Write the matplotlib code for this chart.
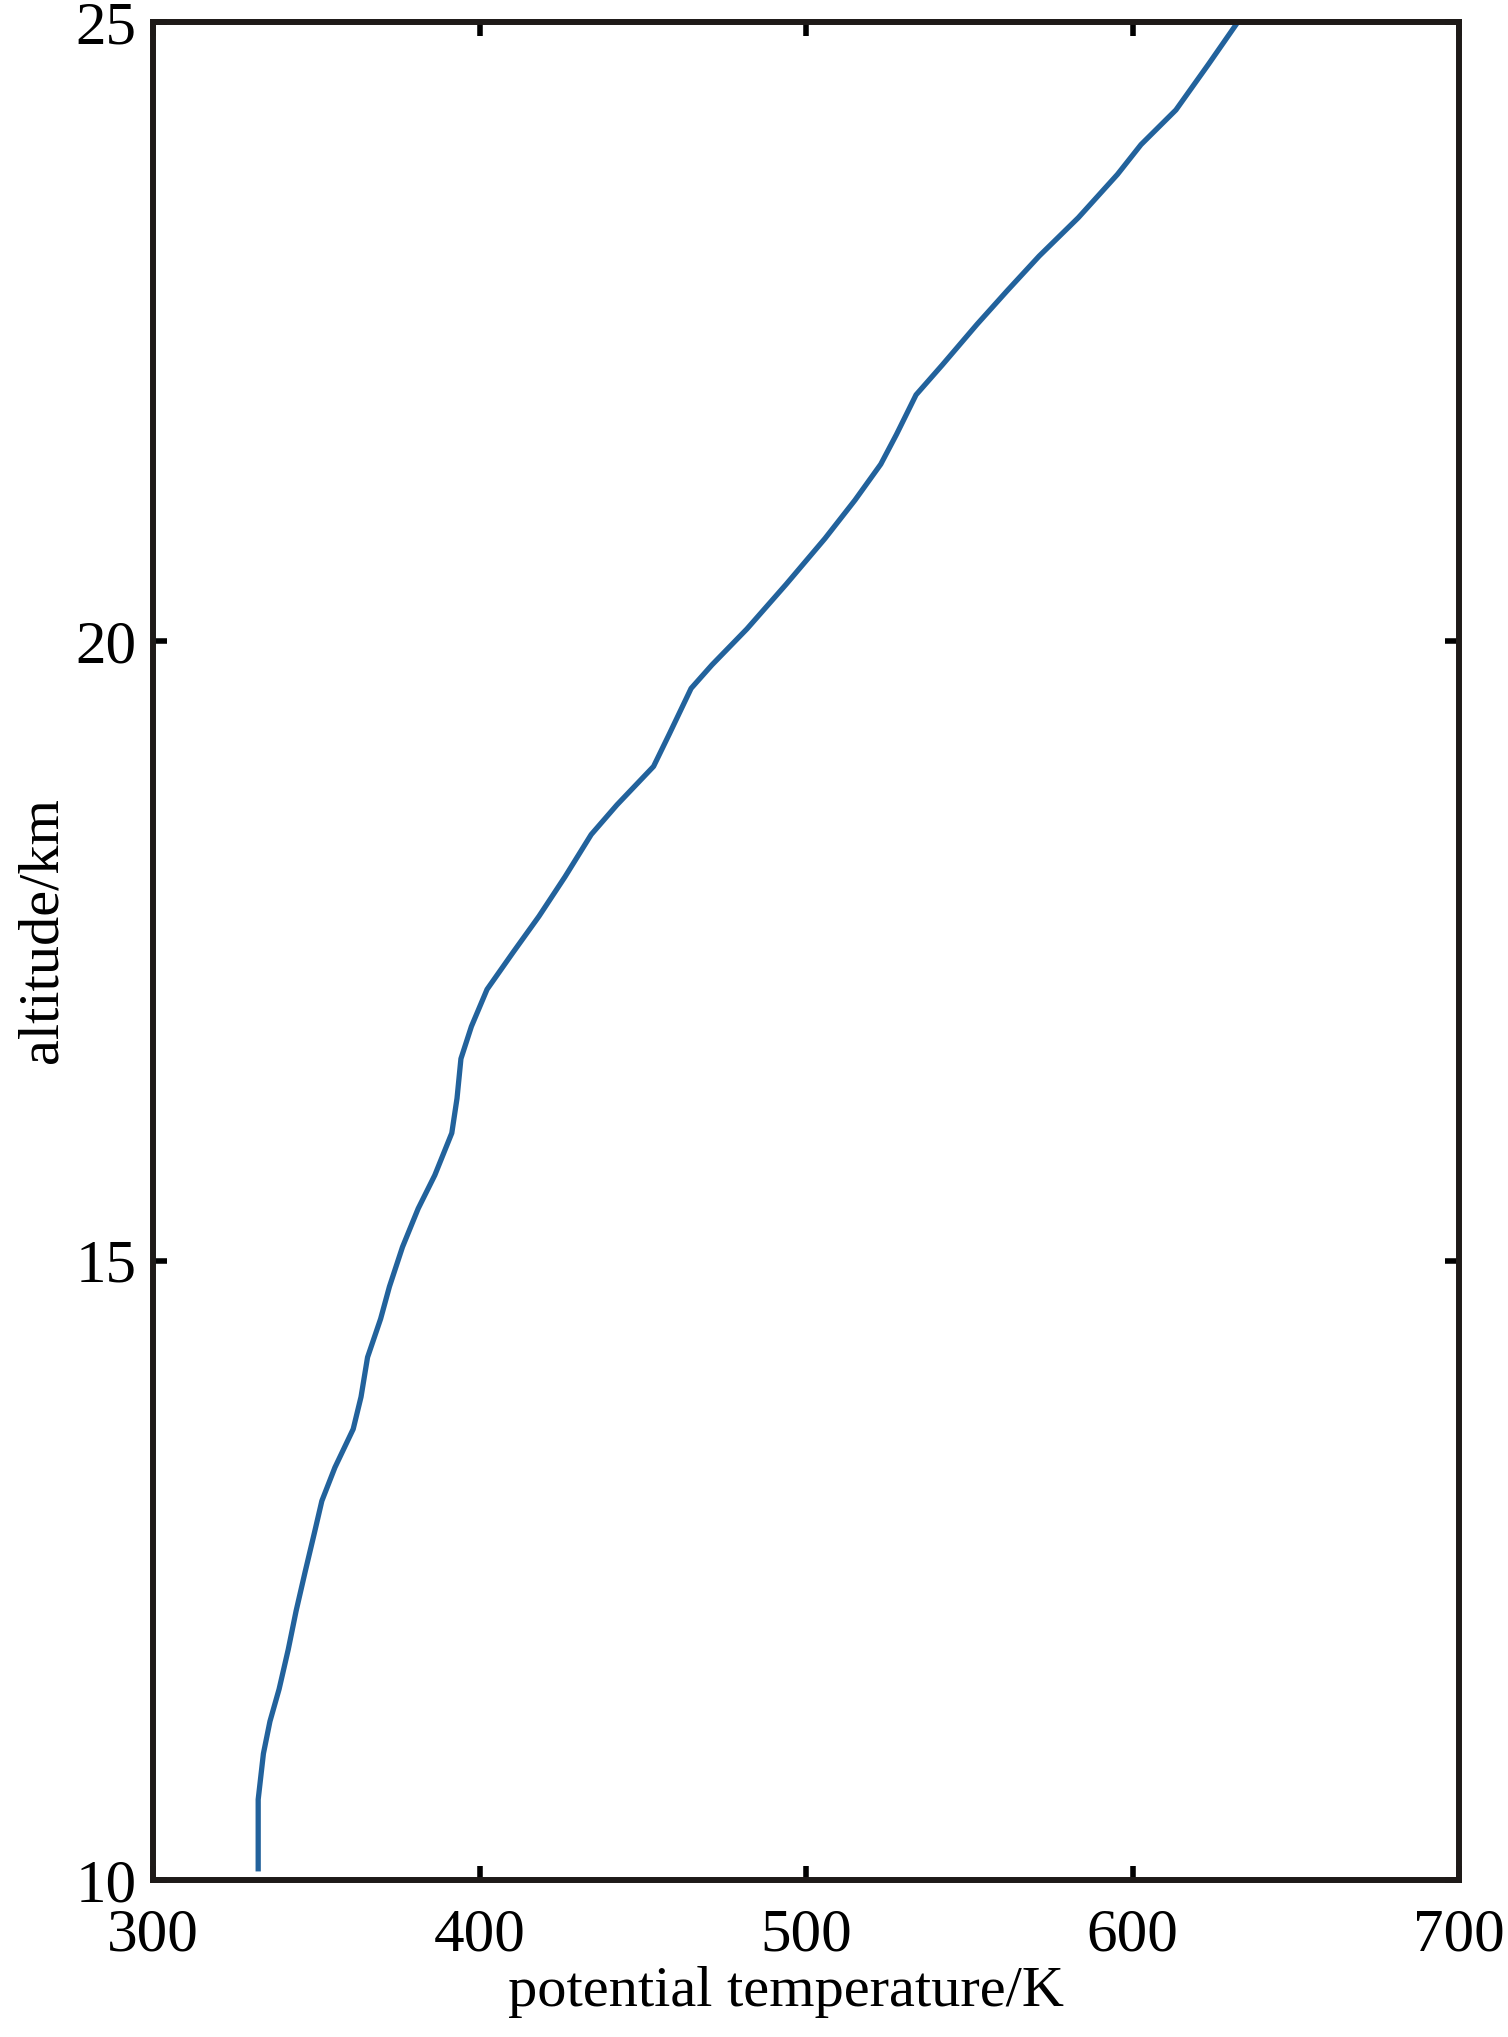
import matplotlib.pyplot as plt
import numpy as np

# potential temperature profile
theta = [332.2, 332.2, 333.8, 335.8, 338.6, 341.4, 343.8, 346.6, 349.4, 351.7,
         355.7, 361.3, 363.7, 365.7, 369.7, 372.4, 376.4, 381.2, 386.3, 391.5,
         393.1, 394.3, 397.5, 402.3, 410.3, 418.2, 426.2, 434.2, 442.1, 453.3,
         458.1, 464.8, 471.2, 481.9, 493.9, 505.8, 515.0, 522.9, 527.7, 533.7,
         541.7, 552.4, 561.6, 571.4, 583.4, 595.4, 602.6, 613.3, 623.3, 632.0]
altitude = [10.09, 10.65, 11.02, 11.28, 11.54, 11.86, 12.17, 12.49, 12.80, 13.06,
            13.33, 13.64, 13.90, 14.22, 14.53, 14.79, 15.11, 15.42, 15.69, 16.03,
            16.31, 16.63, 16.89, 17.19, 17.49, 17.78, 18.10, 18.44, 18.68, 18.99,
            19.25, 19.62, 19.81, 20.10, 20.46, 20.83, 21.14, 21.43, 21.67, 21.99,
            22.23, 22.56, 22.83, 23.11, 23.42, 23.77, 24.01, 24.29, 24.66, 24.99]

xticks = [300, 400, 500, 600, 700]
yticks = [10, 15, 20, 25]

plt.rcParams['font.family'] = ['Liberation Serif', 'DejaVu Serif']

fig = plt.figure(figsize=(15.08, 20.37), dpi=100)
ax = fig.add_axes([0.1015, 0.0771, 0.866, 0.9121])

ax.plot(theta, altitude, color='#22629c', lw=3.8, solid_joinstyle='round')

ax.set_xlim(300, 700)
ax.set_ylim(10, 25)
ax.set_xticks(xticks)
ax.set_yticks(yticks)
ax.tick_params(direction='in', length=10, width=4, labelsize=44,
               top=True, right=True)
ax.tick_params(axis='x', pad=20)
ax.tick_params(axis='y', pad=12)
for s in ax.spines.values():
    s.set_linewidth(4.3)
    s.set_color('#1e1a18')

ax.set_xlabel('potential temperature/K', fontsize=42, labelpad=2)
ax.set_ylabel('altitude/km', fontsize=42, labelpad=5)
ax.xaxis.label.set_x(0.485)
ax.yaxis.label.set_y(0.511)

fig.savefig('out.png', dpi=100)
